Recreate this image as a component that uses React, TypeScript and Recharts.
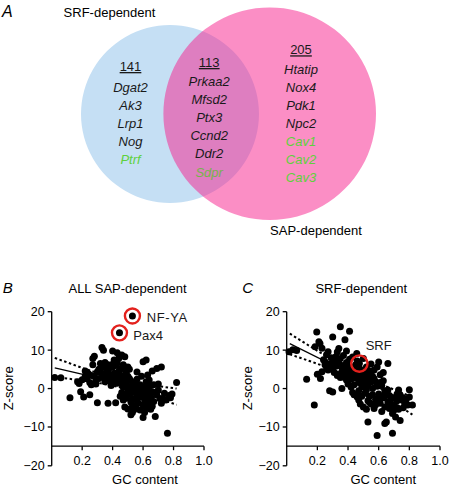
import React from 'react';
import {
  PieChart,
  Pie,
  Cell,
  ComposedChart,
  Scatter,
  Line,
  XAxis,
  YAxis,
} from 'recharts';

const FONT = '"Liberation Sans", Arial, Helvetica, sans-serif';

// ---------- Panel A (Venn) data ----------
const vennSetNames = ['SRF-dependent', 'SAP-dependent'];
const vennCounts = [141, 113, 205]; // SRF only, shared, SAP only
const srfOnlyGenes = ['Dgat2', 'Ak3', 'Lrp1', 'Nog', 'Ptrf'];
const sharedGenes = ['Prkaa2', 'Mfsd2', 'Ptx3', 'Ccnd2', 'Ddr2', 'Sdpr'];
const sapOnlyGenes = ['Htatip', 'Nox4', 'Pdk1', 'Npc2', 'Cav1', 'Cav2', 'Cav3'];
const caveolarGenes = ['Ptrf', 'Sdpr', 'Cav1', 'Cav2', 'Cav3'];

// ---------- Panels B / C data ----------
const gcTicks = [0.2, 0.4, 0.6, 0.8, 1.0];
const zTicksUpper = [-10, 0, 10, 20]; // main plot: Z from -15 (GC axis) to 20
const zTicksLower = [-20]; // broken-axis stub below the GC axis: -20 to -15
const zMainDomain = [-15, 20];
const zStubDomain = [-20, -15];

const sapPoints: [number, number][] = [
  [0.02, 2.9], [0.06, 2.8], [0.12, -2.4], [0.17, 1.8], [0.18, 1.3], [0.19, -0.8],
  [0.2, 2.3], [0.21, -2.2], [0.22, 4.6], [0.22, 3.2], [0.23, 2.6], [0.24, 3.9],
  [0.25, 1.6], [0.25, -1.6], [0.26, 1.0], [0.27, 6.2], [0.27, 7.8], [0.28, 8.4],
  [0.28, 3.3], [0.29, 2.2], [0.3, -3.7], [0.3, 4.4], [0.31, 5.0], [0.32, 6.5],
  [0.33, 10.7], [0.34, 10.0], [0.34, 5.6], [0.34, 3.0], [0.35, 6.8], [0.35, 1.8],
  [0.36, 6.3], [0.36, 2.6], [0.37, -3.8], [0.37, 4.8], [0.38, 2.0], [0.38, 3.6],
  [0.39, 0.8], [0.39, 6.2], [0.4, 9.8], [0.4, 2.9], [0.41, 7.4], [0.41, 4.0],
  [0.42, -3.7], [0.42, 3.2], [0.43, 9.3], [0.43, 6.7], [0.43, 1.4], [0.44, 4.5],
  [0.45, -2.0], [0.45, 2.3], [0.46, 8.7], [0.46, -1.0], [0.46, 5.4], [0.47, 0.4],
  [0.47, -3.0], [0.48, 8.3], [0.48, -4.8], [0.48, 2.0], [0.49, -2.5], [0.49, 4.3],
  [0.5, 5.6], [0.5, -0.5], [0.5, -5.3], [0.51, 5.0], [0.51, -1.5], [0.51, 2.6],
  [0.52, -6.8], [0.52, -3.5], [0.53, -2.6], [0.53, -6.2], [0.53, 0.8], [0.54, -0.8],
  [0.54, 1.5], [0.55, -2.5], [0.55, -4.6], [0.56, 4.3], [0.56, -0.2], [0.57, -1.4],
  [0.57, -3.8], [0.58, 1.0], [0.58, -5.6], [0.59, -2.2], [0.6, 7.0], [0.6, -7.5],
  [0.6, -4.2], [0.6, 0.4], [0.61, -1.0], [0.62, 7.4], [0.62, 1.8], [0.62, -5.0],
  [0.63, -3.0], [0.63, 3.5], [0.64, -0.6], [0.64, -4.0], [0.65, 0.8], [0.65, -2.2],
  [0.66, 4.6], [0.67, 1.0], [0.67, -3.4], [0.68, -7.3], [0.69, 5.2], [0.69, -1.6],
  [0.7, -0.4], [0.71, -2.6], [0.72, 5.6], [0.72, -3.8], [0.73, -2.6], [0.74, -1.2],
  [0.75, -3.0], [0.76, -11.6], [0.77, -1.8], [0.78, -2.4], [0.79, -1.4], [0.82, 1.6],
  [0.36, 4.2], [0.38, 5.4], [0.4, 5.6], [0.41, 1.8], [0.42, 6.0], [0.44, 3.0],
  [0.44, 7.8], [0.45, 5.0], [0.47, 3.4], [0.47, 6.2], [0.49, 1.0], [0.5, 3.2],
  [0.52, 0.2], [0.52, 2.0], [0.53, -4.2], [0.54, -5.5], [0.55, 0.5], [0.56, -3.0],
  [0.56, 2.4], [0.57, 0.4], [0.58, -1.8], [0.59, -0.4], [0.59, 3.2], [0.61, -2.8],
  [0.61, -6.2], [0.62, -1.8], [0.63, 0.5], [0.64, 2.2], [0.65, -5.4], [0.66, -0.8],
  [0.66, -4.6], [0.68, -1.0], [0.7, 1.2], [0.48, -1.6], [0.46, 1.2], [0.39, 2.6],
  [0.33, 4.0], [0.31, 2.6], [0.29, 1.2], [0.26, 3.4],
];
const sapFit: [number, number][] = [[0.02, 5.4], [0.78, -1.6]];
const sapUpper: [number, number][] = [[0.02, 8.0], [0.45, 2.4], [0.82, 0.0]];
const sapLower: [number, number][] = [[0.02, 3.0], [0.45, 0.3], [0.82, -4.2]];
const sapMarked = [
  { x: 0.53, y: 18.9, name: 'NF-YA' },
  { x: 0.445, y: 14.5, name: 'Pax4' },
];

const srfPoints: [number, number][] = [
  [0.015, 9.6], [0.04, 10.1], [0.065, 9.9], [0.13, 2.4], [0.18, -4.3], [0.185, 10.9],
  [0.196, 14.7], [0.2, 3.7], [0.21, 12.2], [0.217, 11.7], [0.22, 2.6], [0.23, 10.5],
  [0.23, 4.4], [0.24, 7.5], [0.25, 6.2], [0.26, 5.4], [0.26, 8.8], [0.27, 4.8],
  [0.28, -0.6], [0.28, 6.4], [0.29, 5.6], [0.3, 13.4], [0.3, -0.9], [0.31, 7.0],
  [0.31, 4.2], [0.32, 5.8], [0.33, 9.5], [0.33, 3.4], [0.34, 10.4], [0.34, 6.6],
  [0.35, 16.1], [0.35, 2.9], [0.35, 7.8], [0.36, 0.0], [0.36, 4.5], [0.37, 8.6],
  [0.37, 3.0], [0.38, 12.7], [0.38, 5.2], [0.39, 2.2], [0.39, 6.8], [0.4, 1.2],
  [0.4, 4.0], [0.41, 14.9], [0.41, 7.6], [0.42, 0.4], [0.42, 3.4], [0.43, 8.2],
  [0.43, -1.0], [0.44, 5.6], [0.44, -1.6], [0.45, 2.8], [0.45, 6.2], [0.457, 9.1],
  [0.46, -2.2], [0.46, 4.4], [0.47, -3.0], [0.47, 1.6], [0.48, 5.0], [0.48, -4.0],
  [0.49, 0.4], [0.49, 3.4], [0.5, 7.8], [0.5, -4.8], [0.51, -1.2], [0.51, 2.2],
  [0.52, 5.6], [0.52, -5.4], [0.53, -8.7], [0.53, -3.2], [0.53, 1.0], [0.54, 4.6],
  [0.54, -2.0], [0.55, 6.4], [0.55, -4.0], [0.56, 0.0], [0.56, 3.2], [0.57, -5.2],
  [0.57, 4.8], [0.58, 1.8], [0.58, -2.8], [0.59, -12.2], [0.59, 5.6], [0.6, 6.9],
  [0.6, -1.4], [0.61, 3.6], [0.61, -3.8], [0.62, 0.8], [0.62, -6.0], [0.63, 2.0],
  [0.63, -2.4], [0.64, -9.1], [0.64, -0.6], [0.65, -8.7], [0.66, 6.5], [0.66, -3.5],
  [0.67, -1.8], [0.67, -5.2], [0.68, -2.8], [0.69, -11.6], [0.69, -6.5], [0.69, -4.3],
  [0.7, -2.4], [0.71, -7.4], [0.71, -4.8], [0.72, -3.2], [0.73, -0.4], [0.74, -8.3],
  [0.74, -1.7], [0.75, -3.0], [0.76, -5.0], [0.77, -3.9], [0.79, -4.3], [0.8, -0.3],
  [0.8, -2.2], [0.82, -4.3],
  [0.25, 7.0], [0.27, 9.6], [0.29, 8.0], [0.3, 5.2], [0.32, 8.3], [0.33, 6.0],
  [0.36, 6.0], [0.37, 5.4], [0.38, 3.8], [0.39, 9.8], [0.4, 6.2], [0.41, 5.4],
  [0.42, 2.4], [0.43, 4.8], [0.44, 1.0], [0.45, 4.2], [0.46, 7.2], [0.47, -0.6],
  [0.48, 2.8], [0.49, -2.0], [0.5, 1.2], [0.51, 4.2], [0.52, -0.4], [0.53, 3.0],
  [0.54, -3.6], [0.55, 1.8], [0.56, -1.6], [0.57, 2.6], [0.58, -4.2], [0.59, 0.6],
  [0.6, -3.0], [0.61, 1.6], [0.62, -2.0], [0.63, 4.2], [0.64, -4.8], [0.65, -1.6],
  [0.66, -0.4], [0.68, -4.2], [0.7, -5.6], [0.72, -1.4], [0.73, -5.4], [0.76, -2.4],
  [0.78, -2.8],
];
const srfFit: [number, number][] = [[0.02, 11.7], [0.84, -4.6]];
const srfUpper: [number, number][] = [[0.02, 14.3], [0.45, 4.2], [0.82, -2.2]];
const srfLower: [number, number][] = [[0.02, 8.9], [0.45, 2.2], [0.82, -6.8]];
const srfMarked = [{ x: 0.474, y: 6.5, name: 'SRF' }];

// label offsets for the circled motifs (style only)
const markLabelOffset: Record<string, [number, number]> = {
  'NF-YA': [14.3, 6.4],
  Pax4: [13.8, 6.7],
  SRF: [6.3, -13.2],
};

const toXY = (arr: [number, number][]) => arr.map(([x, y]) => ({ x, y }));
const fmtZ = (v: number) => (v < 0 ? '\u2212' + Math.abs(v) : String(v));

const TEXT_DARK = '#1a1a1a';

function Dot(props: any) {
  const { cx, cy } = props;
  if (cx == null || cy == null) return <g />;
  return <circle cx={cx} cy={cy} r={3.5} fill="#000" />;
}

function Hidden() {
  return <g />;
}

// GC tick: a short downward tick mark plus its label, drawn at the axis position
function GcTick(props: any) {
  const { x, y, payload } = props;
  return (
    <g>
      <line x1={x} x2={x} y1={y} y2={y + 4} stroke="#000" strokeWidth={1.3} />
      <text x={x} y={y + 18.3} textAnchor="middle" fontFamily={FONT} fontSize={12.5} fill="#000">
        {Number(payload.value).toFixed(1)}
      </text>
    </g>
  );
}

function makeRing(r: number) {
  return function Ring(props: any) {
    const { cx, cy, payload } = props;
    if (cx == null || cy == null) return <g />;
    const off = markLabelOffset[payload.name] || [10, 5];
    return (
      <g>
        <circle cx={cx} cy={cy} r={3.5} fill="#000" />
        <circle cx={cx} cy={cy} r={r} fill="none" stroke="#e3211d" strokeWidth={2.4} />
        <text
          x={cx + off[0]}
          y={cy + off[1]}
          fontFamily={FONT}
          fontSize={13}
          fill={TEXT_DARK}
          letterSpacing={payload.name === 'NF-YA' ? 0.6 : 0}
        >
          {payload.name}
        </text>
      </g>
    );
  };
}

type PanelProps = {
  left: number;
  width: number;
  marginRight: number;
  letter: string;
  letterX: number;
  title: string;
  titleX: number;
  zLabelX: number;
  gcLabelX: number;
  points: [number, number][];
  fit: [number, number][];
  upper: [number, number][];
  lower: [number, number][];
  marked: { x: number; y: number; name: string }[];
  ringR: number;
};

const TOP = 270; // page y where the panel charts start
const PLOT_TOP = 41.7; // margin above the Z=20 level
const MAIN_PLOT_H = 134.5; // Z 20 -> -15
const STUB_PLOT_H = 19.8; // Z -15 -> -20
const MAIN_H = 218;
const X_AXIS_H = 41.8;

function ScatterPanel(p: PanelProps) {
  const Ring = makeRing(p.ringR);
  const margin = { top: PLOT_TOP, right: p.marginRight, bottom: 0, left: 0 };
  const gcAnchors = gcTicks.map((t) => ({ x: t, y: zMainDomain[0] }));
  const stubAnchors = gcTicks.map((t) => ({ x: t, y: zStubDomain[0] }));
  return (
    <div style={{ position: 'absolute', left: p.left, top: TOP, width: p.width, height: MAIN_H }}>
      {/* data layer */}
      <div style={{ position: 'absolute', left: 0, top: 0 }}>
        <ComposedChart width={p.width} height={MAIN_H} margin={margin}>
          <XAxis
            type="number"
            dataKey="x"
            domain={[0, 1]}
            ticks={gcTicks}
            height={X_AXIS_H}
            axisLine={false}
            tickLine={false}
            tick={false}
          />
          <YAxis
            type="number"
            dataKey="y"
            domain={zMainDomain}
            ticks={zTicksUpper}
            interval={0}
            width={51.7}
            tickSize={4}
            tickMargin={3}
            axisLine={{ stroke: '#000', strokeWidth: 1.3 }}
            tickLine={{ stroke: '#000', strokeWidth: 1.3 }}
            tick={{ fill: '#000', fontSize: 12.5, fontFamily: FONT }}
            tickFormatter={fmtZ}
          />
          <Scatter data={toXY(p.points)} fill="#000" shape={Dot} isAnimationActive={false} />
          <Line
            data={toXY(p.fit)}
            dataKey="y"
            type="linear"
            stroke="#000"
            strokeWidth={1.2}
            dot={false}
            activeDot={false}
            isAnimationActive={false}
          />
          <Line
            data={toXY(p.upper)}
            dataKey="y"
            type="monotone"
            stroke="#000"
            strokeWidth={2}
            strokeDasharray="2.5 2.5"
            dot={false}
            activeDot={false}
            isAnimationActive={false}
          />
          <Line
            data={toXY(p.lower)}
            dataKey="y"
            type="monotone"
            stroke="#000"
            strokeWidth={2}
            strokeDasharray="2.5 2.5"
            dot={false}
            activeDot={false}
            isAnimationActive={false}
          />
          <Scatter data={p.marked} fill="#000" shape={Ring} isAnimationActive={false} />
          <text x={p.letterX} y={22.7} fontFamily={FONT} fontSize={15} fontStyle="italic" fill="#000">
            {p.letter}
          </text>
          <text x={p.titleX} y={22.7} textAnchor="middle" fontFamily={FONT} fontSize={13} fill="#000">
            {p.title}
          </text>
          <text
            transform={`translate(${p.zLabelX}, 118.3) rotate(-90)`}
            textAnchor="middle"
            fontFamily={FONT}
            fontSize={13}
            fill="#000"
          >
            Z-score
          </text>
          <text x={p.gcLabelX} y={214} textAnchor="middle" fontFamily={FONT} fontSize={13} fill="#000">
            GC content
          </text>
        </ComposedChart>
      </div>
      {/* GC axis line layer (no series) */}
      <div style={{ position: 'absolute', left: 0, top: 0 }}>
        <ComposedChart width={p.width} height={MAIN_H} margin={margin}>
          <XAxis
            type="number"
            dataKey="x"
            domain={[0, 1]}
            ticks={gcTicks}
            interval={0}
            height={X_AXIS_H}
            axisLine={{ stroke: '#000', strokeWidth: 1.3 }}
            tickLine={false}
            tick={false}
          />
          <YAxis
            type="number"
            dataKey="y"
            domain={zMainDomain}
            width={51.7}
            axisLine={false}
            tickLine={false}
            tick={false}
          />
          <Scatter data={[]} isAnimationActive={false} />
        </ComposedChart>
      </div>
      {/* GC ticks and labels layer */}
      <div style={{ position: 'absolute', left: 0, top: 0 }}>
        <ComposedChart width={p.width} height={MAIN_H} margin={margin}>
          <XAxis
            type="number"
            dataKey="x"
            domain={[0, 1]}
            ticks={gcTicks}
            interval={0}
            height={X_AXIS_H}
            tickSize={0}
            tickMargin={0}
            axisLine={false}
            tickLine={false}
            tick={(tp: any) => <GcTick {...tp} />}
          />
          <YAxis
            type="number"
            dataKey="y"
            domain={zMainDomain}
            width={51.7}
            axisLine={false}
            tickLine={false}
            tick={false}
          />
          <Scatter data={gcAnchors} fill="none" shape={Hidden} isAnimationActive={false} />
        </ComposedChart>
      </div>
      {/* broken-axis stub of the Z axis, below the GC axis */}
      <div style={{ position: 'absolute', left: 0, top: PLOT_TOP + MAIN_PLOT_H }}>
        <ComposedChart
          width={p.width}
          height={STUB_PLOT_H + 9}
          margin={{ top: 0, right: p.marginRight, bottom: 9, left: 0 }}
        >
          <XAxis type="number" dataKey="x" domain={[0, 1]} hide height={0} />
          <YAxis
            type="number"
            dataKey="y"
            domain={zStubDomain}
            ticks={zTicksLower}
            interval={0}
            width={51.7}
            tickSize={4}
            tickMargin={3}
            axisLine={{ stroke: '#000', strokeWidth: 1.3 }}
            tickLine={{ stroke: '#000', strokeWidth: 1.3 }}
            tick={{ fill: '#000', fontSize: 12.5, fontFamily: FONT }}
            tickFormatter={fmtZ}
          />
          <Scatter data={stubAnchors} fill="none" shape={Hidden} isAnimationActive={false} />
        </ComposedChart>
      </div>
    </div>
  );
}

function GeneColumn({
  x,
  count,
  countY,
  genes,
  firstY,
  step,
  region,
}: {
  x: number;
  count: number;
  countY: number;
  genes: string[];
  firstY: number;
  step: number;
  region: string;
}) {
  return (
    <g>
      <text
        x={x}
        y={countY}
        textAnchor="middle"
        fontFamily={FONT}
        fontSize={13}
        fill={TEXT_DARK}
        style={{ textDecoration: 'underline' }}
      >
        {count}
      </text>
      {genes.map((g, i) => {
        const green = caveolarGenes.includes(g);
        const fill = green ? (region === 'shared' ? '#77b24e' : '#5ed13c') : TEXT_DARK;
        return (
          <text
            key={g}
            x={x}
            y={firstY + i * step}
            textAnchor="middle"
            fontFamily={FONT}
            fontSize={13}
            fontStyle="italic"
            fill={fill}
          >
            {g}
          </text>
        );
      })}
    </g>
  );
}

function Venn() {
  const srfTotal = vennCounts[0] + vennCounts[1];
  const sapTotal = vennCounts[1] + vennCounts[2];
  return (
    <div style={{ position: 'absolute', left: 0, top: 0, width: 450, height: 245 }}>
      <PieChart width={450} height={245} margin={{ top: 0, right: 0, bottom: 0, left: 0 }}>
        <Pie
          data={[{ name: vennSetNames[0], value: srfTotal }]}
          dataKey="value"
          cx={170}
          cy={114}
          innerRadius={0}
          outerRadius={89}
          startAngle={90}
          endAngle={-270}
          stroke="none"
          isAnimationActive={false}
        >
          <Cell fill="#c5dff4" stroke="none" />
        </Pie>
        <Pie
          data={[{ name: vennSetNames[1], value: sapTotal }]}
          dataKey="value"
          cx={269.7}
          cy={113.7}
          innerRadius={0}
          outerRadius={106.3}
          startAngle={90}
          endAngle={-270}
          stroke="none"
          isAnimationActive={false}
        >
          <Cell fill="#f71d8b" fillOpacity={0.5} stroke="none" />
        </Pie>
      </PieChart>
      <svg
        width={450}
        height={245}
        style={{ position: 'absolute', left: 0, top: 0, pointerEvents: 'none' }}
      >
        <text x={2} y={16.5} fontFamily={FONT} fontSize={16} fontStyle="italic" fill="#000">
          A
        </text>
        <text x={109.5} y={16.5} textAnchor="middle" fontFamily={FONT} fontSize={13} fill="#000">
          {vennSetNames[0]}
        </text>
        <text x={316} y={235} textAnchor="middle" fontFamily={FONT} fontSize={13} fill="#000">
          {vennSetNames[1]}
        </text>
        <GeneColumn x={130.5} count={vennCounts[0]} countY={71} genes={srfOnlyGenes} firstY={92} step={17.9} region="srf" />
        <GeneColumn x={209.2} count={vennCounts[1]} countY={67} genes={sharedGenes} firstY={86} step={18.1} region="shared" />
        <GeneColumn x={301} count={vennCounts[2]} countY={54.3} genes={sapOnlyGenes} firstY={74.3} step={18} region="sap" />
      </svg>
    </div>
  );
}

export default function App() {
  return (
    <div
      style={{
        position: 'absolute',
        left: 0,
        top: 0,
        width: 450,
        height: 488,
        background: '#fff',
        overflow: 'hidden',
      }}
    >
      <Venn />
      <ScatterPanel
        left={0}
        width={225}
        marginRight={21}
        letter="B"
        letterX={2.7}
        title="ALL SAP-dependent"
        titleX={127.5}
        zLabelX={12.7}
        gcLabelX={145}
        points={sapPoints}
        fit={sapFit}
        upper={sapUpper}
        lower={sapLower}
        marked={sapMarked}
        ringR={7.5}
      />
      <ScatterPanel
        left={235}
        width={215}
        marginRight={10}
        letter="C"
        letterX={7.3}
        title="SRF-dependent"
        titleX={126.3}
        zLabelX={17.3}
        gcLabelX={148.3}
        points={srfPoints}
        fit={srfFit}
        upper={srfUpper}
        lower={srfLower}
        marked={srfMarked}
        ringR={8.2}
      />
    </div>
  );
}
